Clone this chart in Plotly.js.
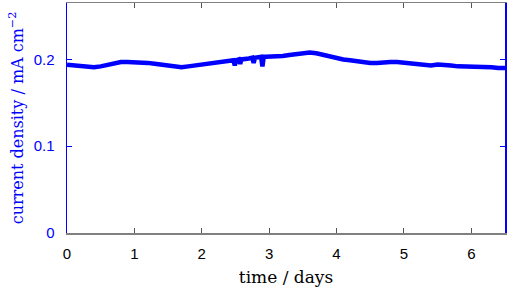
<!DOCTYPE html>
<html>
<head>
<meta charset="utf-8">
<script src="https://cdn.plot.ly/plotly-3.0.1.min.js"></script>
<style>html,body{margin:0;padding:0;background:#fff;}#chart{width:510px;height:290px;}</style>
</head>
<body>
<div id="chart"></div>
<script>
// time in days
const timeDays = [0.0,0.1,0.2,0.3,0.4,0.5,0.6,0.7,0.8,0.9,1.0,1.1,1.2,1.3,1.4,1.5,1.6,1.7,1.8,1.9,2.0,2.1,2.2,2.3,2.4,
  2.47,2.49,2.51,2.55,2.57,2.59,2.6,2.65,2.7,2.75,2.77,2.79,2.8,2.85,2.88,2.9,2.92,2.95,
  3.0,3.1,3.2,3.3,3.4,3.5,3.6,3.7,3.8,3.9,4.0,4.1,4.2,4.3,4.4,4.5,4.6,4.7,4.8,4.9,5.0,5.1,5.2,5.3,5.4,5.5,5.6,5.7,5.8,5.9,6.0,6.1,6.2,6.3,6.4,6.5];
// current density in mA cm^-2
const currentDensity = [0.194,0.193,0.192,0.191,0.191,0.192,0.194,0.196,0.197,0.197,0.197,0.196,0.196,0.195,0.194,0.193,0.192,0.191,0.192,0.193,0.194,0.194,0.195,0.197,0.198,
  0.199,0.193,0.199,0.200,0.195,0.200,0.200,0.201,0.201,0.202,0.196,0.202,0.202,0.202,0.203,0.192,0.203,0.203,
  0.203,0.204,0.204,0.205,0.206,0.207,0.208,0.207,0.205,0.203,0.201,0.200,0.199,0.198,0.196,0.196,0.196,0.197,0.197,0.197,0.196,0.195,0.194,0.193,0.193,0.194,0.194,0.193,0.192,0.192,0.192,0.191,0.191,0.191,0.190,0.190];
const yTickVals = [0, 0.1, 0.2];
const yTickText = ["0", "0.1", "0.2"];
const xTickVals = [0, 1, 2, 3, 4, 5, 6];

const blue = "#0000ff";
const trace = {
  x: timeDays, y: currentDensity, type: "scatter", mode: "lines",
  line: {color: blue, width: 4.5}, hoverinfo: "skip"
};
const layout = {
  width: 510, height: 290,
  margin: {l: 67, r: 5, t: 3, b: 57},
  paper_bgcolor: "#fff", plot_bgcolor: "#fff",
  showlegend: false,
  xaxis: {
    range: [0, 6.5], tickvals: xTickVals, ticks: "inside", ticklen: 5, tickcolor: "#555",
    showline: true, linecolor: "#808080", linewidth: 1.5, mirror: "ticks",
    showgrid: false, zeroline: false, ticklabelstandoff: 6,
    tickfont: {family: "Liberation Sans, Arial, sans-serif", size: 15, color: "#000"},
    title: {text: "time / days", font: {family: "DejaVu Serif, serif", size: 17, color: "#000"}, standoff: 10}
  },
  yaxis: {
    range: [0, 0.265], tickvals: yTickVals, ticktext: yTickText, ticks: "inside", ticklen: 5, tickcolor: blue,
    showline: true, linecolor: blue, linewidth: 1.5, mirror: "ticks",
    showgrid: false, zeroline: false, ticklabelstandoff: 8,
    tickfont: {family: "Liberation Sans, Arial, sans-serif", size: 15, color: blue},
    title: {text: "current density / mA cm<sup>−2</sup>", font: {family: "DejaVu Serif, serif", size: 16, color: blue}, standoff: 6}
  }
};
Plotly.newPlot("chart", [trace], layout, {staticPlot: true, displayModeBar: false});
</script>
</body>
</html>
